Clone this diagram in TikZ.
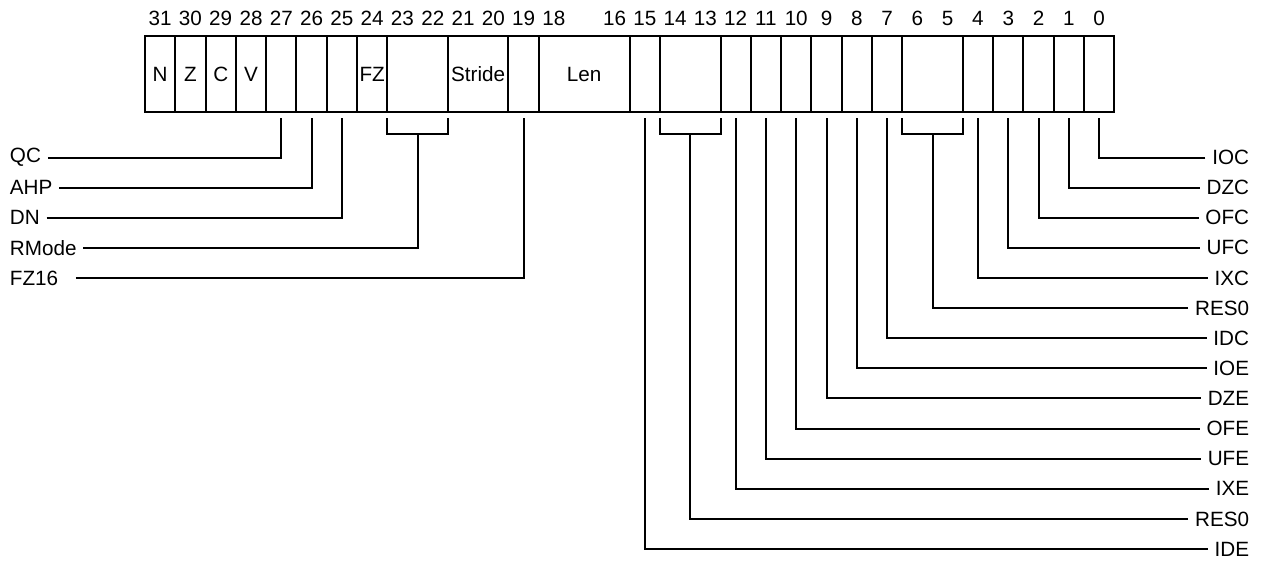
\documentclass[tikz,border=0pt]{standalone}
\usepackage{fontspec}
\setmainfont{Liberation Sans}
\tikzset{
  regline/.style={line width=1.5pt},
  field/.style={draw, line width=1.5pt, anchor=west, minimum height=57pt, inner sep=0pt, outer sep=0pt},
  bitnum/.style={inner sep=0pt},
  flagname/.style={inner sep=5pt},
}
\newcommand{\bw}{22.72pt}
\begin{document}
\begin{tikzpicture}[x=0.75pt,y=-0.75pt,font=\fontsize{15.5}{18}\selectfont]
\useasboundingbox (0,0) rectangle (1262,560);

% bit numbers
\foreach \b in {0,...,16,18,19,...,31}
  \node[bitnum] (n\b) at ({145+(31.5-\b)*30.29},18) {\b};

% fields, named after their top bit
\foreach \m/\w/\t in {31/1/N,30/1/Z,29/1/C,28/1/V,27/1/{},26/1/{},25/1/{},24/1/FZ,23/2/{},21/2/Stride,19/1/{},18/3/Len,15/1/{},14/2/{},12/1/{},11/1/{},10/1/{},9/1/{},8/1/{},7/1/{},6/2/{},4/1/{},3/1/{},2/1/{},1/1/{},0/1/{}}
  \node[field, minimum width=\w*\bw] (f\m) at ({145+(31-\m)*30.29},74) {\t};

% ticks and brackets
\foreach \m in {27,26,25,19,15,12,11,10,9,8,7,4,3,2,1,0}
  \coordinate (t\m) at ([yshift=-4.5pt]f\m.south);
\foreach \m in {23,14,6} {
  \draw[regline] ([yshift=-4.5pt]f\m.south west) -- ([yshift=-16.5pt]f\m.south west)
    -- ([yshift=-16.5pt]f\m.south east) -- ([yshift=-4.5pt]f\m.south east);
  \coordinate (t\m) at ([yshift=-16.5pt]f\m.south);
}

% left side
\foreach \t/\m/\g [count=\k from 0] in {QC/27/0,AHP/26/0,DN/25/0,RMode/23/0,FZ16/19/8} {
  \node[flagname, anchor=west] (l\m) at (3,{157.5+\k*30.12}) {\t};
  \draw[regline] ([xshift=\g pt]l\m.east) -| (t\m);
}

% right side
\foreach \t/\m [count=\k from 0] in {IOC/0,DZC/1,OFC/2,UFC/3,IXC/4,RES0/6,IDC/7,IOE/8,DZE/9,OFE/10,UFE/11,IXE/12,RES0/14,IDE/15} {
  \node[flagname, anchor=east] (r\m) at (1256,{157.5+\k*30.12}) {\t};
  \draw[regline] (r\m.west) -| (t\m);
}
\end{tikzpicture}
\end{document}
